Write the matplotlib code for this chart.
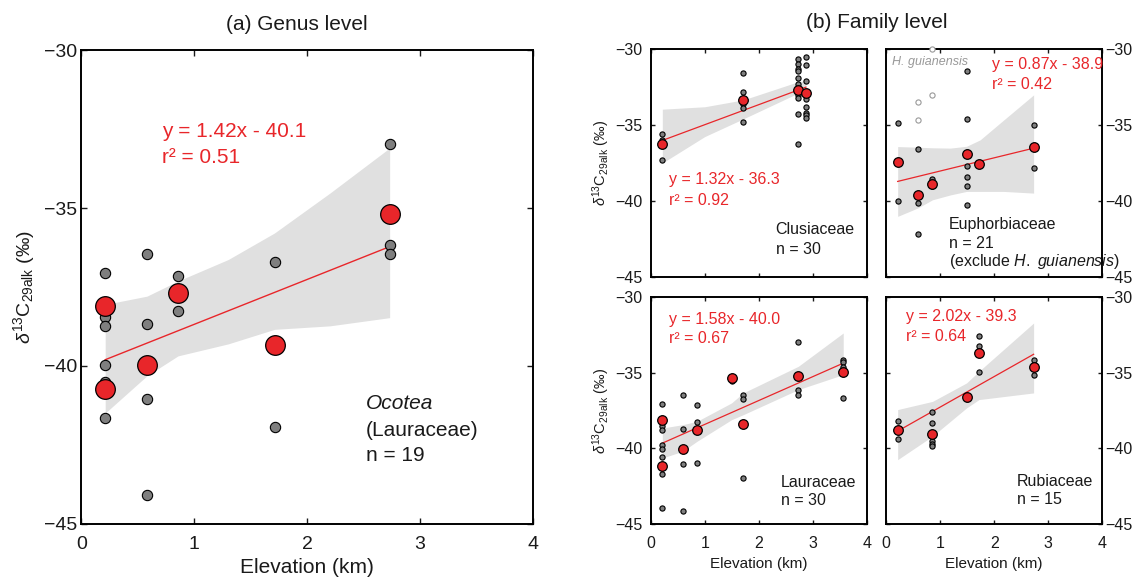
import matplotlib
matplotlib.use('Agg')
import matplotlib.pyplot as plt

plt.rcParams['font.family'] = ['Liberation Sans', 'DejaVu Sans']
plt.rcParams['mathtext.fontset'] = 'custom'
plt.rcParams['mathtext.rm'] = 'Liberation Sans'
plt.rcParams['mathtext.it'] = 'Liberation Sans:italic'
plt.rcParams['mathtext.bf'] = 'Liberation Sans:bold'

RED = '#e8262a'
GRAY = '#7f7f7f'
BAND = '#e0e0e0'
INK = '#1a1a1a'

# ---- (a) Ocotea (genus level)
oco_x = [0.21, 0.21, 0.21, 0.21, 0.21, 0.21, 0.58, 0.58, 0.58, 0.58, 0.855, 0.855, 1.71, 1.71, 2.73, 2.73, 2.73]
oco_y = [-37.07, -38.45, -38.73, -39.98, -40.5, -41.65, -36.44, -38.66, -41.03, -44.08,
         -37.15, -38.25, -36.71, -41.92, -32.97, -36.16, -36.44]
oco_mean_x = [0.21, 0.21, 0.58, 0.855, 1.71, 2.73]
oco_mean_y = [-38.1, -40.74, -39.98, -37.68, -39.35, -35.19]
oco_band_x = [0.21, 0.58, 0.855, 1.3, 1.71, 2.2, 2.73]
oco_band_lo = [-41.49, -40.31, -39.68, -39.3, -38.84, -38.73, -38.47]
oco_band_hi = [-38.05, -37.79, -37.31, -36.63, -35.79, -34.53, -33.1]
oco_fit = (1.42, -40.1)

# ---- (b) Clusiaceae
clu_x = [0.215, 0.215, 0.215, 1.71, 1.71, 1.71, 1.71, 1.71,
         2.73, 2.73, 2.73, 2.73, 2.73, 2.73, 2.73, 2.73, 2.73, 2.73, 2.73,
         2.87, 2.87, 2.87, 2.87, 2.87, 2.87, 2.87, 2.87, 2.87]
clu_y = [-35.6, -35.98, -37.31, -31.6, -32.8, -33.61, -33.9, -34.82,
         -30.68, -30.98, -31.31, -31.44, -31.88, -32.32, -32.65, -33.02, -33.24, -34.27, -36.26,
         -30.5, -31.05, -32.1, -32.8, -33.3, -33.79, -34.18, -34.34, -34.51]
clu_mean_x = [0.215, 1.71, 2.73, 2.87]
clu_mean_y = [-36.26, -33.35, -32.69, -32.87]
clu_band_x = [0.215, 1.0, 1.71, 2.73, 2.87]
clu_band_lo = [-37.5, -35.76, -34.6, -32.9, -33.17]
clu_band_hi = [-33.96, -33.8, -33.35, -32.15, -32.1]
clu_fit = (1.32, -36.3)

# ---- (b) Euphorbiaceae
eup_x = [0.216, 0.216, 0.587, 0.587, 0.587, 0.86, 0.86, 1.49, 1.49, 1.49, 1.49, 1.49, 1.49, 2.73, 2.73]
eup_y = [-34.88, -40.03, -36.61, -40.1, -42.15, -38.56, -38.98, -31.42, -34.6, -37.69, -38.45,
         -38.98, -40.29, -34.99, -37.8]
eup_mean_x = [0.216, 0.587, 0.86, 1.49, 1.72, 2.73]
eup_mean_y = [-37.44, -39.59, -38.89, -36.9, -37.55, -36.42]
hg_x = [0.587, 0.587, 0.86, 0.86]
hg_y = [-33.46, -34.69, -33.0, -30.0]
eup_band_x = [0.216, 0.587, 0.86, 1.19, 1.49, 1.74, 2.18, 2.73]
eup_band_lo = [-41.01, -40.46, -39.92, -39.6, -39.37, -39.37, -39.37, -39.48]
eup_band_hi = [-36.42, -36.46, -36.5, -36.52, -36.4, -35.98, -34.66, -33.02]
eup_fit = (0.87, -38.9)

# ---- (b) Lauraceae
lau_x = [0.215, 0.215, 0.215, 0.215, 0.215, 0.215, 0.215, 0.215, 0.59, 0.59, 0.59, 0.59,
         0.855, 0.855, 0.855, 1.495, 1.71, 1.71, 1.71, 2.73, 2.73, 2.73, 3.56, 3.56, 3.56, 3.56]
lau_y = [-37.07, -38.55, -38.81, -39.76, -40.02, -40.57, -41.67, -43.94, -36.45, -38.7, -41.04, -44.12,
         -37.16, -38.26, -40.97, -35.57, -36.45, -36.72, -41.96, -32.97, -36.12, -36.45,
         -34.14, -34.32, -34.63, -36.67]
lau_mean_x = [0.215, 0.215, 0.59, 0.855, 1.495, 1.71, 2.73, 3.56]
lau_mean_y = [-38.11, -41.19, -40.02, -38.81, -35.35, -38.39, -35.2, -34.98]
lau_band_x = [0.215, 0.59, 0.855, 1.495, 1.71, 2.73, 3.56]
lau_band_lo = [-40.64, -40.2, -39.54, -38.11, -37.78, -36.12, -35.13]
lau_band_hi = [-38.66, -38.44, -38.22, -37.0, -36.34, -34.58, -32.38]
lau_fit = (1.58, -40.0)

# ---- (b) Rubiaceae
rub_x = [0.216, 0.216, 0.86, 0.86, 0.86, 0.86, 0.86, 1.72, 1.72, 1.72, 2.73, 2.73]
rub_y = [-38.22, -39.38, -37.62, -38.33, -39.54, -39.69, -39.87, -32.6, -33.26, -34.98, -34.14, -35.13]
rub_mean_x = [0.216, 0.86, 1.49, 1.72, 2.73]
rub_mean_y = [-38.77, -39.05, -36.61, -33.7, -34.63]
rub_band_x = [0.216, 0.86, 1.49, 1.72, 2.73]
rub_band_lo = [-40.75, -39.2, -37.33, -36.78, -36.34]
rub_band_hi = [-37.44, -36.9, -35.68, -34.91, -31.72]
rub_fit = (2.02, -39.3)

YLABEL = r'$\delta^{13}$C$_{\mathrm{29alk}}$ (‰)'


def draw_panel(ax, x, y, mx, my, bx, blo, bhi, fit, small, big, lw):
    ax.fill_between(bx, blo, bhi, color=BAND, lw=0, zorder=1)
    x0, x1 = min(bx), max(bx)
    ax.plot([x0, x1], [fit[0] * x0 + fit[1], fit[0] * x1 + fit[1]], color=RED, lw=lw, zorder=2)
    ax.scatter(x, y, s=small, facecolor=GRAY, edgecolor='black', linewidth=0.8, zorder=3)
    ax.scatter(mx, my, s=big, facecolor=RED, edgecolor='black', linewidth=0.9, zorder=4)
    ax.set_xlim(0, 4)
    ax.set_ylim(-45, -30)
    ax.set_xticks([0, 1, 2, 3, 4])
    ax.set_yticks([-45, -40, -35, -30])
    for s in ax.spines.values():
        s.set_linewidth(1.4)
    ax.tick_params(direction='in', top=True, right=True, length=4, width=1, colors=INK)


fig = plt.figure(figsize=(11.35, 5.77), dpi=100)

# (a)
axa = fig.add_axes([0.0718, 0.0919, 0.3978, 0.8214])
draw_panel(axa, oco_x, oco_y, oco_mean_x, oco_mean_y, oco_band_x, oco_band_lo, oco_band_hi,
           oco_fit, 55, 200, 1.0)
axa.tick_params(labelsize=14)
axa.tick_params(axis='x', pad=9)
axa.tick_params(axis='y', pad=3)
axa.set_xlabel('Elevation (km)', fontsize=15, color=INK, labelpad=3)
axa.set_ylabel(YLABEL, fontsize=14, color=INK, labelpad=5)
axa.text(0.71, -32.58, 'y = 1.42x - 40.1', color=RED, fontsize=15, va='center')
axa.text(0.71, -33.4, 'r² = 0.51', color=RED, fontsize=15, va='center')
axa.text(2.52, -41.2, 'Ocotea', color=INK, fontsize=15, style='italic', va='center')
axa.text(2.52, -42.03, '(Lauraceae)', color=INK, fontsize=15, va='center')
axa.text(2.52, -42.83, 'n = 19', color=INK, fontsize=15, va='center')
fig.text(297 / 1135, 1 - 24 / 577, '(a) Genus level', fontsize=15, color=INK, ha='center', va='center')

# (b)
w = 0.1906
h_top = 0.3952
h_bot = 0.3934
ax1 = fig.add_axes([0.5733, 0.5199, w, h_top])
ax2 = fig.add_axes([0.7806, 0.5199, w, h_top])
ax3 = fig.add_axes([0.5733, 0.0919, w, h_bot])
ax4 = fig.add_axes([0.7806, 0.0919, w, h_bot])

draw_panel(ax1, clu_x, clu_y, clu_mean_x, clu_mean_y, clu_band_x, clu_band_lo, clu_band_hi,
           clu_fit, 14, 48, 0.9)
draw_panel(ax2, eup_x, eup_y, eup_mean_x, eup_mean_y, eup_band_x, eup_band_lo, eup_band_hi,
           eup_fit, 14, 48, 0.9)
ax2.scatter(hg_x, hg_y, s=14, facecolor='white', edgecolor='#999999', linewidth=0.8, zorder=3, clip_on=False)
draw_panel(ax3, lau_x, lau_y, lau_mean_x, lau_mean_y, lau_band_x, lau_band_lo, lau_band_hi,
           lau_fit, 14, 48, 0.9)
draw_panel(ax4, rub_x, rub_y, rub_mean_x, rub_mean_y, rub_band_x, rub_band_lo, rub_band_hi,
           rub_fit, 14, 48, 0.9)

for ax in (ax1, ax2, ax3, ax4):
    ax.tick_params(labelsize=11.5, length=3)
    ax.tick_params(axis='x', pad=9)
for ax in (ax1, ax3):
    ax.tick_params(axis='y', pad=6)
for ax in (ax2, ax4):
    ax.tick_params(axis='y', pad=2, labelleft=False, labelright=True)
for ax in (ax1, ax2):
    ax.tick_params(labelbottom=False)
for ax in (ax3, ax4):
    ax.set_xlabel('Elevation (km)', fontsize=11, color=INK, labelpad=4)
for ax in (ax1, ax3):
    ax.set_ylabel(YLABEL, fontsize=10.5, color=INK, labelpad=2)

fs = 11.5
ax1.text(0.33, -38.6, 'y = 1.32x - 36.3', color=RED, fontsize=fs, va='center')
ax1.text(0.33, -39.98, 'r² = 0.92', color=RED, fontsize=fs, va='center')
ax1.text(2.31, -41.89, 'Clusiaceae', color=INK, fontsize=fs, va='center')
ax1.text(2.31, -43.2, 'n = 30', color=INK, fontsize=fs, va='center')

ax2.text(0.12, -30.83, 'H. guianensis', color='#999999', fontsize=9, style='italic', va='center')
ax2.text(1.96, -31.05, 'y = 0.87x - 38.9', color=RED, fontsize=fs, va='center')
ax2.text(1.96, -32.32, 'r² = 0.42', color=RED, fontsize=fs, va='center')
ax2.text(1.16, -41.56, 'Euphorbiaceae', color=INK, fontsize=fs, va='center')
ax2.text(1.16, -42.77, 'n = 21', color=INK, fontsize=fs, va='center')
ax2.text(1.16, -43.97, r'(exclude $\mathit{H.\ guianensis}$)', color=INK, fontsize=fs, va='center')

ax3.text(0.33, -31.5, 'y = 1.58x - 40.0', color=RED, fontsize=fs, va='center')
ax3.text(0.33, -32.75, 'r² = 0.67', color=RED, fontsize=fs, va='center')
ax3.text(2.41, -42.25, 'Lauraceae', color=INK, fontsize=fs, va='center')
ax3.text(2.41, -43.46, 'n = 30', color=INK, fontsize=fs, va='center')

ax4.text(0.37, -31.28, 'y = 2.02x - 39.3', color=RED, fontsize=fs, va='center')
ax4.text(0.37, -32.6, 'r² = 0.64', color=RED, fontsize=fs, va='center')
ax4.text(2.42, -42.18, 'Rubiaceae', color=INK, fontsize=fs, va='center')
ax4.text(2.42, -43.39, 'n = 15', color=INK, fontsize=fs, va='center')

fig.text(877 / 1135, 1 - 22 / 577, '(b) Family level', fontsize=15, color=INK, ha='center', va='center')

fig.savefig('out.png', dpi=100)
